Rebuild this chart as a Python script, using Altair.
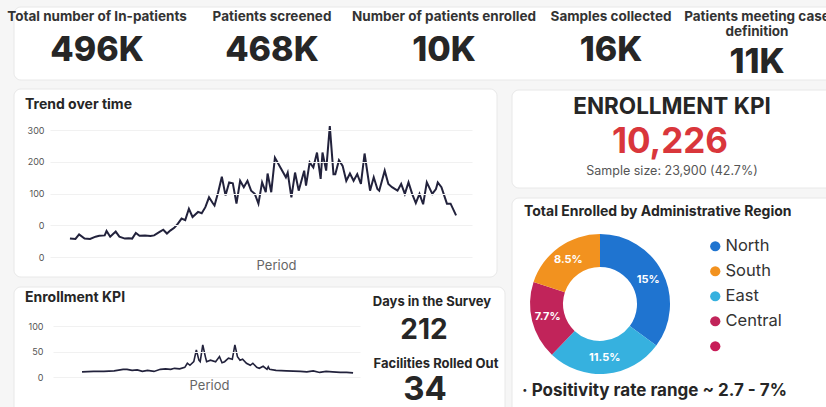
import altair as alt
import pandas as pd

FONT = "Inter"
DARK = "#262626"

# ---------------- data ----------------
kpi_labels = ["Total number of In-patients", "Patients screened", "Number of patients enrolled",
              "Samples collected", "Patients meeting case\ndefinition"]
kpi_values = ["496K", "468K", "10K", "16K", "11K"]

trend_days = [1, 4, 6, 9, 12, 15, 17, 20, 21, 23,
              26, 28, 31, 33, 35, 37, 39, 42, 45, 47,
              50, 52, 54, 56, 58, 60, 62, 64, 66, 68,
              71, 73, 75, 77, 79, 80, 82, 84, 86, 88,
              90, 92, 94, 96, 98, 100, 102, 104, 106, 108,
              109, 111, 113, 116, 119, 120, 122, 124, 126, 129,
              130, 132, 134, 136, 138, 139, 141, 143, 145, 146,
              148, 150, 152, 154, 156, 158, 160, 162, 165, 167,
              169, 170, 173, 175, 177, 180, 182, 184, 186, 188,
              190, 192, 194, 196, 199, 201, 202, 204, 207, 209,
              212]
trend_values = [-42, -43, -29, -42, -43, -36, -33, -32, -18, -36,
                -20, -36, -42, -41, -42, -24, -33, -32, -34, -32,
                -21, -14, -26, -16, -8, 5, 21, 16, 52, 26,
                42, 38, 57, 88, 70, 62, 104, 153, 94, 135,
                132, 68, 140, 120, 140, 109, 99, 68, 135, 104,
                163, 104, 213, 182, 151, 166, 88, 166, 109, 172,
                125, 198, 182, 229, 146, 229, 172, 312, 161, 161,
                205, 187, 140, 163, 140, 161, 130, 226, 109, 151,
                114, 109, 172, 130, 120, 109, 130, 99, 135, 99,
                70, 99, 66, 135, 99, 114, 135, 120, 68, 68,
                31]
trend_ticks = [-100, 0, 100, 200, 300]
trend_tick_labels = ["0", "0", "100", "200", "300"]

enroll_days = [1, 10, 18, 26, 33, 36, 40, 44, 48, 52,
               57, 62, 66, 70, 73, 77, 81, 83, 85, 88,
               90, 92, 93, 95, 97, 98, 101, 105, 108, 110,
               112, 115, 118, 120, 122, 124, 126, 129, 132, 134,
               137, 139, 142, 145, 146, 147, 152, 160, 171, 176,
               181, 186, 191, 196, 202, 207, 212]
enroll_values = [10, 11, 11, 12, 15, 15, 13, 14, 11, 13,
                 11, 15, 16, 15, 17, 16, 19, 27, 23, 30,
                 53, 33, 30, 63, 40, 30, 33, 30, 40, 28,
                 30, 37, 35, 63, 40, 33, 35, 27, 23, 27,
                 19, 17, 21, 15, 20, 15, 13, 12, 11, 10,
                 12, 9, 11, 10, 9, 9, 8]
enroll_ticks = [0, 50, 100]

regions = ["North", "East", "Central", "South"]
region_share = [15.0, 11.5, 7.7, 8.5]
region_labels = ["15%", "11.5%", "7.7%", "8.5%"]
legend_entries = ["North", "South", "East", "Central", " "]
legend_colors = ["#1f74d0", "#f2921f", "#36b1df", "#c1245a", "#c81c58"]

kpi_title = "ENROLLMENT KPI"
kpi_total = "10,226"
kpi_sample = "Sample size: 23,900 (42.7%)"
days_label, days_value = "Days in the Survey", "212"
fac_label, fac_value = "Facilities Rolled Out", "34"
positivity = "\u00b7 Positivity rate range ~ 2.7 - 7%"

# ---------------- helpers ----------------
dummy = pd.DataFrame({"k": [0]})


def card(x0, y0, x1, y1):
    return alt.Chart(dummy).mark_rect(fill="white", stroke="#e8e8e8", strokeWidth=1,
                                      cornerRadius=7).encode(
        x=alt.value(x0), x2=alt.value(x1), y=alt.value(y0), y2=alt.value(y1))


def txt(s, x, y, size, weight="bold", color=DARK, align="center", baseline="middle"):
    return alt.Chart(dummy).mark_text(text=s, fontSize=size, fontWeight=weight, color=color,
                                      align=align, baseline=baseline, font=FONT).encode(
        x=alt.value(x), y=alt.value(y))


cards = [
    card(14, 7, 840, 80),
    card(14, 89, 497, 277),
    card(14, 287, 505, 420),
    card(512, 90, 840, 188),
    card(512, 198, 840, 420),
]

# ---------------- KPI row ----------------
kpi_df = pd.DataFrame({"idx": list(range(len(kpi_labels))), "label": kpi_labels, "value": kpi_values})
kpi_x = alt.X("idx:Q", scale=alt.Scale(domain=[0, 1, 2, 3, 4], range=[97, 272, 444, 611, 757],
                                       nice=False, zero=False), axis=None)
kpi_base = alt.Chart(kpi_df).transform_calculate(nl="length(split(datum.label, '\\n'))")
kpi_lab = kpi_base.mark_text(font=FONT, fontSize=13.5, fontWeight="bold", color="#333",
                             baseline="top", lineBreak="\n", lineHeight=15).encode(
    x=kpi_x, y=alt.value(10), text="label:N")
kpi_val = kpi_base.mark_text(font=FONT, fontSize=34, fontWeight=800, color=DARK,
                             baseline="middle").encode(
    x=kpi_x,
    y=alt.Y("nl:Q", scale=alt.Scale(domain=[1, 2], range=[51, 63], nice=False, zero=False), axis=None),
    text="value:N")
kpi_row = alt.layer(kpi_lab, kpi_val)

# ---------------- trend line ----------------
trend_expr = " : ".join(f"datum.value == {t} ? '{l}'" for t, l in zip(trend_ticks, trend_tick_labels)) + " : datum.label"
trend_df = pd.DataFrame({"day": trend_days, "value": trend_values})
trend = alt.Chart(trend_df).mark_line(color="#22223c", strokeWidth=2).encode(
    x=alt.X("day:Q", scale=alt.Scale(domain=[-9.9, 220.7], range=[50, 472], nice=False, zero=False),
            axis=alt.Axis(orient="bottom", offset=-150, title="Period", labels=False, ticks=False,
                          domain=False, grid=False, titleX=276, titleY=2, titleBaseline="top",
                          titleFont=FONT, titleFontWeight="normal", titleColor="#666", titleFontSize=13,
                          zindex=1)),
    y=alt.Y("value:Q", scale=alt.Scale(domain=[-100, 300], range=[257, 130], nice=False, zero=False),
            axis=alt.Axis(orient="left", offset=-47, values=trend_ticks, labelExpr=trend_expr,
                          grid=True, gridColor="#f1f1f1", domain=False, ticks=False, labelPadding=3,
                          title=None, labelFont=FONT, labelFontSize=9, labelColor="#555", zindex=1)),
)

# ---------------- enrollment small line ----------------
enroll_df = pd.DataFrame({"day": enroll_days, "value": enroll_values})
enroll = alt.Chart(enroll_df).mark_line(color="#22223c", strokeWidth=1.6).encode(
    x=alt.X("day:Q", scale=alt.Scale(domain=[-21.6, 217.4], range=[53, 360], nice=False, zero=False),
            axis=alt.Axis(orient="bottom", offset=-30, title="Period", labels=False, ticks=False,
                          domain=False, grid=False, titleX=209, titleY=2, titleBaseline="top",
                          titleFont=FONT, titleFontWeight="normal", titleColor="#666", titleFontSize=13,
                          zindex=1)),
    y=alt.Y("value:Q", scale=alt.Scale(domain=[0, 100], range=[377, 326], nice=False, zero=False),
            axis=alt.Axis(orient="left", offset=-46, values=enroll_ticks, grid=True, gridColor="#f1f1f1",
                          domain=False, ticks=False, labelPadding=3, title=None, labelFont=FONT,
                          labelFontSize=9, labelColor="#555", zindex=1)),
)

# ---------------- donut ----------------
donut_df = pd.DataFrame({"region": regions, "share": region_share, "label": region_labels,
                         "ord": list(range(len(regions)))})
dbase = alt.Chart(donut_df).encode(theta=alt.Theta("share:Q", stack=True), order=alt.Order("ord:Q"))
arcs = dbase.mark_arc(innerRadius=37, outerRadius=70).encode(
    x=alt.value(600), y=alt.value(304),
    color=alt.Color("region:N", scale=alt.Scale(domain=legend_entries, range=legend_colors),
                    legend=alt.Legend(orient="none", legendX=707, legendY=238, title=None,
                                      symbolType="circle", symbolSize=105, symbolStrokeWidth=0,
                                      labelFont=FONT, labelFontSize=16.5, labelColor="#333",
                                      rowPadding=8, labelOffset=2, padding=0)))
arc_lbl = dbase.mark_text(radius=54, color="white", font=FONT, fontSize=11, fontWeight="bold").encode(
    x=alt.value(600), y=alt.value(304), text="label:N")
donut = alt.layer(arcs, arc_lbl)

# ---------------- texts ----------------
texts = [
    txt("Trend over time", 25, 105, 14, align="left"),
    txt("Enrollment KPI", 25, 298, 14, align="left"),
    txt(days_label, 432, 302, 13),
    txt(days_value, 424, 331, 28),
    txt(fac_label, 436, 364, 13),
    txt(fac_value, 425, 390, 33),
    txt(kpi_title, 672, 107, 22.5),
    txt(kpi_total, 670, 142, 35, color="#d9363b"),
    txt(kpi_sample, 672, 171, 12.5, weight="normal", color="#555"),
    txt("Total Enrolled by Administrative Region", 524, 212, 14, align="left"),
    txt(positivity, 522, 391, 17, align="left"),
]

chart = alt.layer(*cards, kpi_row, trend, enroll, donut, *texts).resolve_scale(
    x="independent", y="independent", color="independent", theta="independent"
).properties(
    width=826, height=407, padding=0, autosize=alt.AutoSizeParams(type="none"), background="#f6f6f6"
).configure_view(stroke=None)

chart.save("out.html", embed_options={"renderer": "svg", "actions": False})
